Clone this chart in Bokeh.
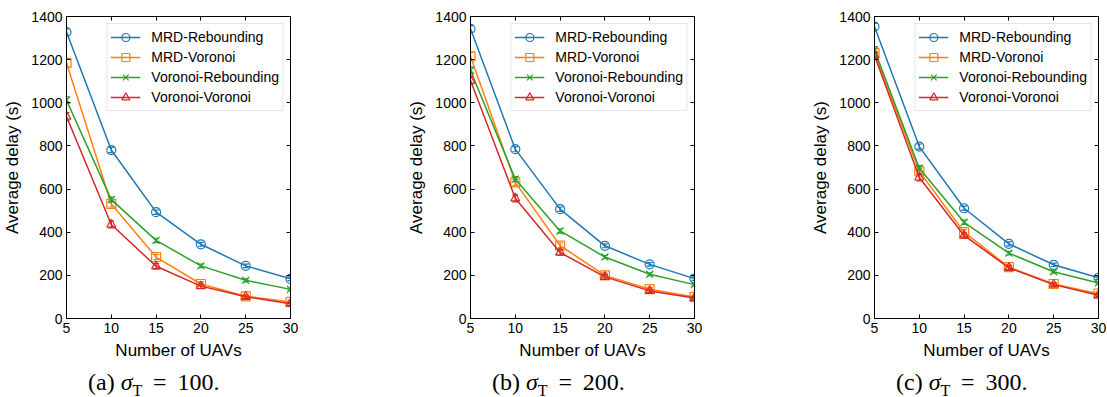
from bokeh.plotting import figure
from bokeh.models import Legend, LegendItem, LinearAxis, FixedTicker, Div, Range1d
from bokeh.layouts import row, column
from bokeh.embed import file_html
from bokeh.resources import INLINE

uavs = [5, 10, 15, 20, 25, 30]
series_names = ["MRD-Rebounding", "MRD-Voronoi", "Voronoi-Rebounding", "Voronoi-Voronoi"]
panel_tags = ["(a)", "(b)", "(c)"]
sigma_values = [100, 200, 300]
y_ticks = [0, 200, 400, 600, 800, 1000, 1200, 1400]

# (a) sigma_T = 100
a_mrd_reb = [1328, 781, 493, 344, 244, 184]
a_mrd_vor = [1185, 531, 285, 160, 103, 77]
a_vor_reb = [1012, 551, 362, 244, 177, 135]
a_vor_vor = [936, 436, 242, 150, 101, 68]
# (b) sigma_T = 200
b_mrd_reb = [1343, 785, 507, 337, 251, 185]
b_mrd_vor = [1215, 631, 338, 200, 136, 100]
b_vor_reb = [1150, 646, 406, 285, 205, 157]
b_vor_vor = [1103, 557, 306, 193, 128, 95]
# (c) sigma_T = 300
c_mrd_reb = [1353, 797, 511, 346, 249, 189]
c_mrd_vor = [1231, 682, 400, 238, 160, 115]
c_vor_reb = [1245, 697, 446, 303, 217, 165]
c_vor_vor = [1219, 654, 385, 235, 157, 108]

# error bar half-widths
a_err = [[15, 12, 10, 9, 8, 8], [18, 14, 12, 10, 8, 8], [15, 12, 10, 8, 7, 6], [18, 16, 12, 10, 8, 7]]
b_err = [[15, 12, 10, 9, 8, 8], [18, 14, 12, 10, 8, 8], [15, 12, 10, 8, 7, 6], [18, 16, 12, 10, 8, 7]]
c_err = [[15, 12, 10, 9, 8, 8], [18, 14, 12, 10, 8, 8], [15, 12, 10, 8, 7, 6], [18, 16, 12, 10, 8, 7]]

panels = [
    ([a_mrd_reb, a_mrd_vor, a_vor_reb, a_vor_vor], a_err),
    ([b_mrd_reb, b_mrd_vor, b_vor_reb, b_vor_vor], b_err),
    ([c_mrd_reb, c_mrd_vor, c_vor_reb, c_vor_vor], c_err),
]

colors = ["#1f77b4", "#ff7f0e", "#2ca02c", "#d62728"]
markers = ["circle", "square", "x", "triangle"]
msizes = [9, 9, 10, 9]

FONT = "Liberation Sans"
widths = [404, 404, 299]
rights = [114, 114, 9]


def style_axis(ax, labels=True):
    ax.major_tick_in = 4
    ax.major_tick_out = 0
    ax.minor_tick_line_color = None
    ax.axis_line_color = "black"
    ax.major_tick_line_color = "black"
    ax.major_label_text_font = FONT
    if labels:
        ax.major_label_text_color = "black"
        ax.major_label_text_font_size = "14px"
        ax.major_label_standoff = 4
    else:
        ax.major_label_text_color = None
        ax.major_label_text_font_size = "0px"
        ax.major_label_standoff = 0


figs = []
caps = []
for i, (series, errs) in enumerate(panels):
    p = figure(width=widths[i], height=370, output_backend="svg", toolbar_location=None,
               x_range=Range1d(5, 30), y_range=Range1d(0, 1400),
               min_border_left=64, min_border_right=rights[i], min_border_top=16,
               min_border_bottom=52)
    p.xgrid.visible = False
    p.ygrid.visible = False
    p.outline_line_color = "black"
    p.background_fill_color = "white"
    p.border_fill_color = "white"

    p.xaxis.ticker = FixedTicker(ticks=uavs)
    p.yaxis.ticker = FixedTicker(ticks=y_ticks)
    style_axis(p.xaxis[0])
    style_axis(p.yaxis[0])
    p.xaxis.axis_label = "Number of UAVs"
    p.yaxis.axis_label = "Average delay (s)"
    for ax in (p.xaxis[0], p.yaxis[0]):
        ax.axis_label_text_font = FONT
        ax.axis_label_text_font_size = "17px"
        ax.axis_label_text_font_style = "normal"
        ax.axis_label_text_color = "black"
    p.xaxis.axis_label_standoff = 5
    p.yaxis.axis_label_standoff = 6

    rax = LinearAxis(ticker=FixedTicker(ticks=y_ticks))
    style_axis(rax, labels=False)
    p.add_layout(rax, "right")
    tax = LinearAxis(ticker=FixedTicker(ticks=uavs))
    style_axis(tax, labels=False)
    p.add_layout(tax, "above")

    items = []
    for k in range(4):
        ys = series[k]
        e = errs[k]
        lo = [y - d for y, d in zip(ys, e)]
        hi = [y + d for y, d in zip(ys, e)]
        ln = p.line(uavs, ys, line_color=colors[k], line_width=1.5)
        p.segment(x0=uavs, y0=lo, x1=uavs, y1=hi, line_color=colors[k], line_width=1.2)
        p.scatter(uavs, lo, marker="dash", size=6, line_color=colors[k], line_width=1.2)
        p.scatter(uavs, hi, marker="dash", size=6, line_color=colors[k], line_width=1.2)
        sc = p.scatter(uavs, ys, marker=markers[k], size=msizes[k], line_color=colors[k],
                       fill_color=None, line_width=1.2)
        items.append(LegendItem(label=series_names[k], renderers=[ln, sc]))

    leg = Legend(items=items, location="top_right", margin=7, padding=3, spacing=0,
                 glyph_width=30, glyph_height=20, label_height=20, label_standoff=11,
                 label_text_font=FONT, label_text_font_size="14px", label_text_color="black",
                 border_line_color="#cccccc", border_line_width=1,
                 background_fill_color="white", background_fill_alpha=0.8)
    p.add_layout(leg)
    figs.append(p)

    html = ('<div style="margin-left:88px; padding:0; line-height:24px; '
            'font-family:\'Liberation Serif\'; font-size:24px; color:black; white-space:nowrap;">'
            + panel_tags[i] + ' <i>&sigma;</i><sub style="font-size:16px; line-height:0;">T</sub>'
            '&thinsp; = &thinsp;' + str(sigma_values[i]) + '.</div>')
    caps.append(Div(text=html, width=widths[i], height=27, margin=0))

layout = column(row(*figs, spacing=0), row(*caps, spacing=0), spacing=0)
open("out.html", "w").write(file_html(layout, INLINE))
